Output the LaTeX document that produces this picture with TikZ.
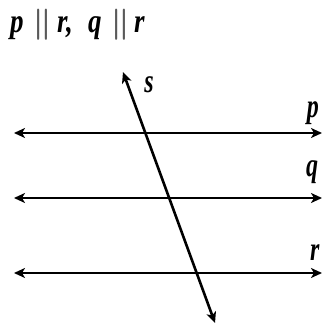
\documentclass[tikz,border=0pt]{standalone}
\usepackage{graphicx}
\usepackage{fontspec}
\setmainfont{Liberation Serif}
\usetikzlibrary{arrows.meta}
\newcommand\tallglyph[1]{\scalebox{1}[1.4]{#1}}
\newcommand\vv[1]{\textbf{\textit{#1}}}
\newcommand\parbars{{\color{black!65}\scalebox{1.4}[1]{\boldmath$\parallel$}}}
\newcommand\slot[2]{\makebox[#1][l]{#2}}
\tikzset{
  ln/.style={line width=2.6pt, {Stealth[length=11pt,width=10pt,inset=3pt]}-{Stealth[length=11pt,width=10pt,inset=3pt]}},
  lab/.style={inner sep=0pt, font=\fontsize{24}{24}\selectfont},
  ttl/.style={inner sep=0pt, font=\fontsize{27}{27}\selectfont}
}
\begin{document}
\begin{tikzpicture}[x=1pt,y=-1pt]
\useasboundingbox (0,0) rectangle (323,325);
\coordinate (pL) at (14,133); \coordinate (pR) at (322,133);
\coordinate (qL) at (14,198); \coordinate (qR) at (322,198);
\coordinate (rL) at (14,273); \coordinate (rR) at (322,273);
\coordinate (sT) at (123,72); \coordinate (sB) at (215,323);
\draw[ln] (pL) -- (pR);
\draw[ln] (qL) -- (qR);
\draw[ln] (rL) -- (rR);
\draw[ln] (sT) -- (sB);
\node[lab] (lp) at (313,113) {\tallglyph{\vv{p}}};
\node[lab] (lq) at (312,172) {\tallglyph{\vv{q}}};
\node[lab] (lr) at (315,253) {\tallglyph{\vv{r}}};
\node[lab] (ls) at (149,85) {\tallglyph{\vv{s}}};
\node[ttl, anchor=west] (title) at (10,25) {\scalebox{1}[1.25]{\slot{26pt}{\vv{p}}\slot{21pt}{\hspace*{-4pt}\parbars}\slot{31pt}{\vv{r,}}\slot{26pt}{\vv{q}}\slot{20pt}{\hspace*{-4pt}\parbars}\vv{r}}};
\end{tikzpicture}
\end{document}
